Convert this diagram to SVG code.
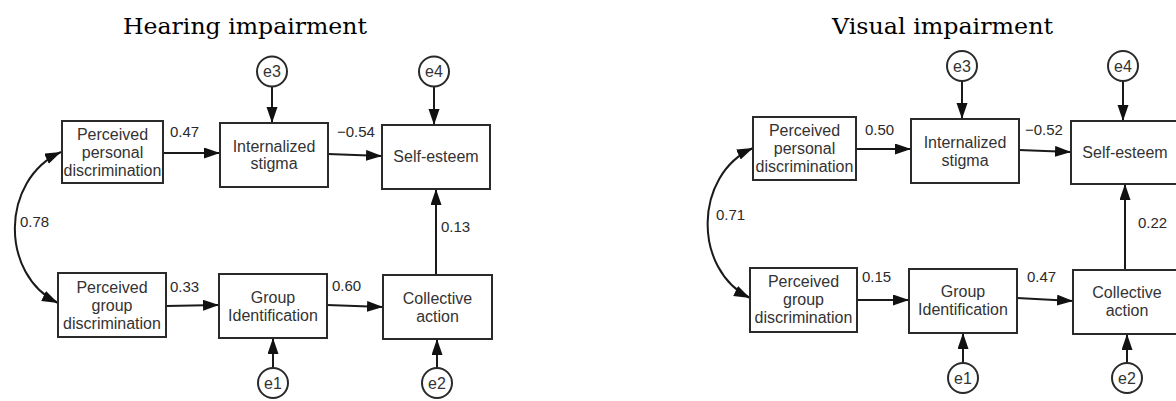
<svg xmlns="http://www.w3.org/2000/svg" width="1176" height="401" viewBox="0 0 1176 401">
<style>
.box{fill:#fff;stroke:#2a2a2a;stroke-width:2}
.err{fill:#fff;stroke:#2a2a2a;stroke-width:2}
.nt{font-family:"Liberation Sans",Arial,sans-serif;font-size:16px;fill:#333;text-anchor:middle}
.lab{font-family:"Liberation Sans",Arial,sans-serif;font-size:15px;fill:#2a2a2a}
.title{font-family:"DejaVu Serif","Liberation Serif",serif;font-size:22px;fill:#000;text-anchor:middle}
.c{fill:none;stroke:#1a1a1a;stroke-width:2}
.a{marker-end:url(#ah)}
.d{marker-start:url(#ah);marker-end:url(#ah)}
</style>
<defs>
<marker id="ah" markerUnits="userSpaceOnUse" markerWidth="17" markerHeight="12" refX="16" refY="5.5" orient="auto-start-reverse">
<path d="M0,0 L16,5.5 L0,11 z" fill="#111"/>
</marker>
</defs>
<text class="title" x="245" y="34" textLength="244" lengthAdjust="spacingAndGlyphs">Hearing impairment</text>
<text class="title" x="942.5" y="34" textLength="221" lengthAdjust="spacingAndGlyphs">Visual impairment</text>

<g id="connectors">
<!-- left -->
<path class="c d" d="M61,152 C0,180 0,275 58,303"/>
<line class="c a" x1="163" y1="153" x2="220" y2="153"/>
<line class="c a" x1="328" y1="154" x2="382" y2="156"/>
<line class="c a" x1="272" y1="87" x2="272" y2="123"/>
<line class="c a" x1="434" y1="87" x2="434" y2="125"/>
<line class="c a" x1="166" y1="306" x2="219" y2="305"/>
<line class="c a" x1="327" y1="305" x2="383" y2="307"/>
<line class="c a" x1="436" y1="275" x2="436" y2="189"/>
<line class="c a" x1="273" y1="368" x2="273" y2="338"/>
<line class="c a" x1="437" y1="368" x2="437" y2="339"/>
<!-- right -->
<path class="c d" d="M753,148 C693,175 693,270 750,298"/>
<line class="c a" x1="856" y1="149" x2="911" y2="149"/>
<line class="c a" x1="1019" y1="150" x2="1071" y2="152"/>
<line class="c a" x1="962" y1="81" x2="962" y2="119"/>
<line class="c a" x1="1123" y1="81" x2="1123" y2="121"/>
<line class="c a" x1="857" y1="300" x2="909" y2="300"/>
<line class="c a" x1="1017" y1="298" x2="1073" y2="301"/>
<line class="c a" x1="1125" y1="270" x2="1125" y2="184"/>
<line class="c a" x1="963" y1="363" x2="963" y2="333"/>
<line class="c a" x1="1127" y1="363" x2="1127" y2="334"/>
</g>

<g id="labels">
<text class="lab" x="170" y="137">0.47</text>
<text class="lab" x="337" y="137">−0.54</text>
<text class="lab" x="20" y="227">0.78</text>
<text class="lab" x="170" y="292">0.33</text>
<text class="lab" x="332" y="291">0.60</text>
<text class="lab" x="441" y="232">0.13</text>
<text class="lab" x="865" y="135">0.50</text>
<text class="lab" x="1025" y="135">−0.52</text>
<text class="lab" x="716" y="220">0.71</text>
<text class="lab" x="862" y="282">0.15</text>
<text class="lab" x="1027" y="282">0.47</text>
<text class="lab" x="1138" y="228">0.22</text>
</g>

<!-- left panel nodes -->
<g id="h_ppd"><rect class="box" x="62" y="121" width="101" height="62"/>
<text class="nt" x="112.5" y="140">Perceived</text><text class="nt" x="112.5" y="158">personal</text><text class="nt" x="112.5" y="176">discrimination</text></g>
<g id="h_is"><rect class="box" x="220" y="123" width="108" height="64"/>
<text class="nt" x="274" y="152">Internalized</text><text class="nt" x="274" y="169">stigma</text></g>
<g id="h_se"><rect class="box" x="382" y="125" width="108" height="64"/>
<text class="nt" x="436" y="162">Self-esteem</text></g>
<g id="h_pgd"><rect class="box" x="58" y="273" width="108" height="64"/>
<text class="nt" x="112" y="293">Perceived</text><text class="nt" x="112" y="311">group</text><text class="nt" x="112" y="329">discrimination</text></g>
<g id="h_gi"><rect class="box" x="219" y="274" width="108" height="64"/>
<text class="nt" x="273" y="303">Group</text><text class="nt" x="273" y="321">Identification</text></g>
<g id="h_ca"><rect class="box" x="383" y="275" width="109" height="64"/>
<text class="nt" x="437.5" y="304">Collective</text><text class="nt" x="437.5" y="322">action</text></g>
<g id="h_e3"><circle class="err" cx="272" cy="71.5" r="15"/><text class="nt" x="272" y="77">e3</text></g>
<g id="h_e4"><circle class="err" cx="434" cy="71.5" r="15"/><text class="nt" x="434" y="77">e4</text></g>
<g id="h_e1"><circle class="err" cx="273" cy="383" r="15"/><text class="nt" x="273" y="389">e1</text></g>
<g id="h_e2"><circle class="err" cx="437" cy="383" r="15"/><text class="nt" x="437" y="389">e2</text></g>

<!-- right panel nodes -->
<g id="v_ppd"><rect class="box" x="753" y="117" width="103" height="63"/>
<text class="nt" x="804.5" y="136">Perceived</text><text class="nt" x="804.5" y="154">personal</text><text class="nt" x="804.5" y="172">discrimination</text></g>
<g id="v_is"><rect class="box" x="911" y="119" width="108" height="64"/>
<text class="nt" x="965" y="148">Internalized</text><text class="nt" x="965" y="166">stigma</text></g>
<g id="v_se"><rect class="box" x="1071" y="121" width="108" height="63"/>
<text class="nt" x="1125" y="158">Self-esteem</text></g>
<g id="v_pgd"><rect class="box" x="750" y="268" width="107" height="64"/>
<text class="nt" x="803.5" y="287">Perceived</text><text class="nt" x="803.5" y="305">group</text><text class="nt" x="803.5" y="323">discrimination</text></g>
<g id="v_gi"><rect class="box" x="909" y="269" width="108" height="64"/>
<text class="nt" x="963" y="297">Group</text><text class="nt" x="963" y="315">Identification</text></g>
<g id="v_ca"><rect class="box" x="1073" y="270" width="108" height="64"/>
<text class="nt" x="1127" y="298">Collective</text><text class="nt" x="1127" y="316">action</text></g>
<g id="v_e3"><circle class="err" cx="962" cy="66" r="15"/><text class="nt" x="962" y="71.5">e3</text></g>
<g id="v_e4"><circle class="err" cx="1123" cy="66" r="15"/><text class="nt" x="1123" y="71.5">e4</text></g>
<g id="v_e1"><circle class="err" cx="963" cy="378" r="15"/><text class="nt" x="963" y="383.5">e1</text></g>
<g id="v_e2"><circle class="err" cx="1127" cy="378" r="15"/><text class="nt" x="1127" y="383.5">e2</text></g>
</svg>
